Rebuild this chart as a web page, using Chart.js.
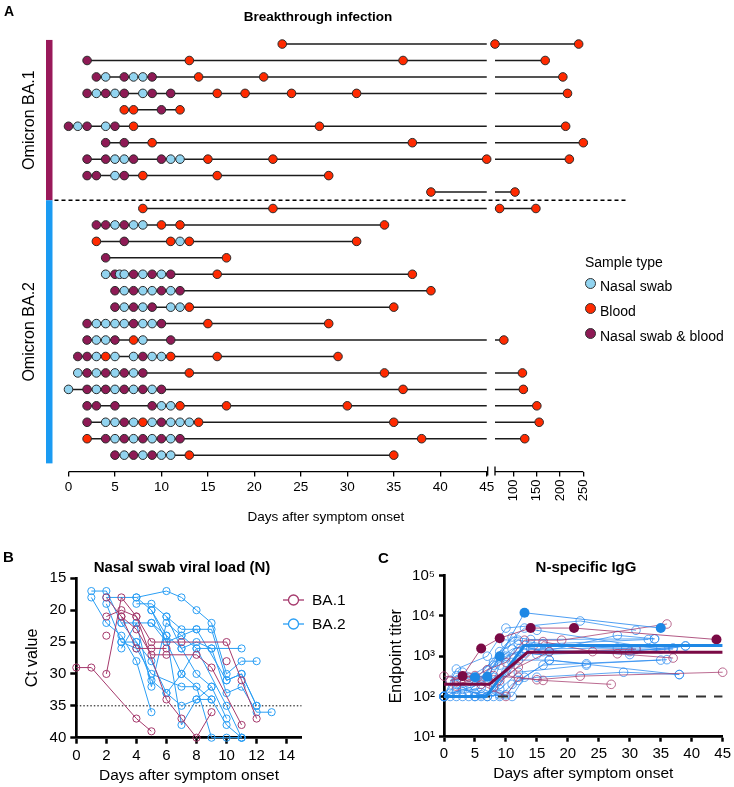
<!DOCTYPE html>
<html><head><meta charset="utf-8">
<script src="https://cdn.jsdelivr.net/npm/chart.js@4.4.0/dist/chart.umd.min.js"></script>
<style>
body{margin:0;background:#fff;width:734px;height:787px;position:relative;overflow:hidden;font-family:"Liberation Sans",Arial,sans-serif;color:#000}
canvas{position:absolute}
.t{position:absolute;white-space:nowrap;line-height:1}
.b{font-weight:bold}
.lgA{position:absolute;left:585px;font-size:14px;line-height:1;white-space:nowrap}
.dot{position:absolute;width:9px;height:9px;border-radius:50%;border:1px solid #333;left:0;top:0}
.lgB{position:absolute;left:282px;font-size:15.5px;line-height:1;white-space:nowrap}
.lgB svg{position:absolute;left:0;top:-9px}
.lgB span{position:absolute;left:30px;top:-8px}
</style></head><body>
<canvas id="cA" width="734" height="530" style="left:0;top:0;width:734px;height:530px"></canvas>
<canvas id="cB" width="340" height="247" style="left:0;top:540px;width:340px;height:247px"></canvas>
<canvas id="cC" width="394" height="247" style="left:340px;top:540px;width:394px;height:247px"></canvas>

<div class="t b" style="left:4px;top:4px;font-size:14px">A</div>
<div class="t b" style="left:318px;top:10px;font-size:13.5px;transform:translateX(-50%)">Breakthrough infection</div>
<div class="t b" style="left:3px;top:549px;font-size:15px">B</div>
<div class="t b" style="left:182px;top:559px;font-size:15px;transform:translateX(-50%)">Nasal swab viral load (N)</div>
<div class="t b" style="left:378px;top:550px;font-size:15px">C</div>
<div class="t b" style="left:586px;top:559px;font-size:15px;transform:translateX(-50%)">N-specific IgG</div>

<div id="legendA"></div>
<div id="legendB"></div>

<script>
// ================= DATA =================
// Panel A: one string per subject, tokens = sample type letter + day after symptom onset
// N = nasal swab, B = blood, X = nasal swab & blood
const SAMPLE_TYPES = ['Nasal swab', 'Blood', 'Nasal swab & blood'];
const SAMPLE_CODES = ['N', 'B', 'X'];
const GROUPS_A = ['Omicron BA.1', 'Omicron BA.2'];
const BA1_ROWS = [
  'B23 B60 B240',
  'X2 B13 B36 B168',
  'X3 N4 X6 N7 N8 X9 B14 B21 B206',
  'X2 N3 X4 N5 X6 N8 X9 X11 B16 B19 B24 B31 B216',
  'B6 B7 X10 B12',
  'X0 N1 X2 N4 X5 B7 B27 B212',
  'X4 X6 B9 B37 B250',
  'X2 X4 N5 N6 X7 X10 N11 N12 B15 B22 B45 B220',
  'X2 X3 N5 X6 B8 B16 B28',
  'B39 B103'
];
const BA2_ROWS = [
  'B8 B22 B70 B148',
  'X3 X4 N5 X6 N7 N8 B10 B12 B34',
  'B3 X6 B11 N12 B13 B31',
  'X4 B17',
  'N4 X5 N5.5 N6 X7 N8 X9 N10 X11 B16 B37',
  'X5 N6 X7 N8 N9 X10 N11 X12 B39',
  'X5 N6 X7 N8 X9 N11 N12 B13 B35',
  'X2 N3 N4 N5 N6 X7 N8 N9 X10 B15 B28',
  'X2 N3 N4 X5 B7 N8 X11 B79',
  'X1 X2 N3 B4 N5 N7 X8 N9 N10 B11 B16 B29',
  'N1 X2 N3 X4 N5 X6 N7 X8 B13 B34 B119',
  'N0 X2 N3 X4 N5 X6 N7 X8 N9 X10 B36 B121',
  'X2 X3 X5 X9 N10 N11 B12 B17 B30 B150',
  'X2 N4 N5 X6 N7 B8 N9 X10 N11 N12 N13 B14 B35 B155',
  'B2 X4 N5 X6 N7 X8 N9 X10 N11 X12 B38 B124',
  'X5 N6 X7 N8 X9 N10 N11 B13 B35'
];
const A_TICKS = [0, 5, 10, 15, 20, 25, 30, 35, 40, 45, 100, 150, 200, 250];
const A_BREAK_FROM = 45, A_BREAK_TO = 60, A_MAX = 250;

// Panel B: Ct values, [day, Ct]
const B_XTICKS = [0, 2, 4, 6, 8, 10, 12, 14];
const B_YTICKS = [15, 20, 25, 30, 35, 40];
const CT_LIMIT = 35;
const BA1_CT = [
  [[0,29],[1,29],[4,37],[5,39]],
  [[2,30],[3,18],[4,21],[5,25],[7,25],[10,25],[11,31],[12,37]],
  [[2,18],[3,21],[4,23],[5,27],[6,27],[8,27],[9,29],[11,38]],
  [[2,21],[3,20],[4,21],[6,34],[7,37],[8,40],[9,36]],
  [[3,21],[4,26],[5,26],[6,26]],
  [[2,24]],
  [[10,28]]
];
const BA2_CT = [
  [[1,17],[2,17],[3,22],[4,25],[5,31],[6,33],[7,35],[8,34],[9,34]],
  [[1,18],[2,22],[3,24],[4,28],[5,36]],
  [[2,18],[4,18],[5,20],[6,24],[7,26],[8,30],[9,32],[10,37]],
  [[2,19],[3,25],[4,26],[5,30],[7,32],[8,32],[9,40],[10,40],[11,40]],
  [[3,26],[4,22],[5,22],[6,25],[7,30],[9,34],[10,38],[11,40]],
  [[4,19],[5,19],[6,21],[7,23],[8,23],[9,23],[10,31],[11,30],[12,35]],
  [[4,18],[6,17],[7,18],[8,20],[9,22],[10,30],[11,28],[12,28]],
  [[3,22],[4,22],[5,32],[6,22],[7,24],[8,26],[9,26],[11,26]],
  [[5,22],[6,24],[7,38],[8,34],[9,32]],
  [[6,21],[7,26],[8,25],[9,26],[10,33],[11,32],[12,36],[13,36]],
  [[3,25],[4,25],[5,28],[6,33],[7,30],[8,26],[10,35],[11,40]],
  [[5,20],[6,25],[7,24],[8,23],[10,31],[11,30],[12,35]]
];

// Panel C: endpoint titers, [day, titer]
const C_XTICKS = [0, 5, 10, 15, 20, 25, 30, 35, 40, 45];
const C_YTICKS = [10, 100, 1000, 10000, 100000];
const IGG_LIMIT = 100;
const BA1_IGG = [
  [[0,320],[4,250],[8,330],[15,260],[22,320],[45,400]],
  [[2,230],[6,200],[10,100],[12,300],[16,250],[27,200]],
  [[2,180],[7,460],[10,700],[13,2500],[19,2500],[36,6300]],
  [[4,300],[8,170],[11,400],[16,2300],[24,1300],[28,1150],[37,900]],
  [[1,250],[5,330],[9,250],[12,540],[17,1300],[31,1500]]
];
const BA1_IGG_HIGHLIGHT = [[3,320],[6,1550],[9,2800],[14,5000],[21,5000],[44,2600]];
const BA1_IGG_FIT = [[0,200],[7.3,200],[13.5,1250],[45,1250]];
const BA2_IGG = [
  [[0,100],[2,480],[7,1000],[10,5000],[22,7500],[31,4400]],
  [[0,100],[2,330],[5,250],[10,2000],[13,5000],[15,4400],[35,1500]],
  [[0,100],[3,150],[7,100],[9,600],[12,2000],[16,1300],[28,3300],[34,2700]],
  [[0,100],[2,200],[5,120],[8,100],[11,700],[14,1500],[30,1100],[39,1800]],
  [[1,100],[4,100],[7,100],[9,200],[12,800],[17,800],[23,650],[35,800]],
  [[2,100],[5,100],[8,300],[10,400],[13,1200],[17,1300],[37,1500]],
  [[0,100],[5,100],[10,110],[12,250],[15,300],[29,400],[38,350]],
  [[2,130],[6,160],[9,100],[11,200],[16,600],[36,820]],
  [[1,250],[4,300],[8,700],[11,1500],[14,2000],[31,1500]],
  [[3,400],[6,250],[9,1300],[12,2500],[16,2000],[33,2600]],
  [[0,100],[3,100],[6,110],[9,150],[12,400],[23,600]],
  [[2,250],[4,130],[7,450],[10,900],[13,1500],[28,1600],[37,1600]],
  [[1,120],[5,180],[8,600],[11,3000],[14,2600],[34,2700]],
  [[0,100],[6,100],[9,110],[11,100],[13,300],[17,800],[38,350]],
  [[2,150],[7,250],[10,1000],[12,1300],[15,1100],[30,1300],[39,1800]]
];
const BA2_IGG_HIGHLIGHT = [[5,300],[7,310],[9,1000],[13,12000],[35,5000]];
const BA2_IGG_FIT = [[0,100],[6.8,100],[13,1850],[45,1850]];

// ================= STYLE =================
const FONT = '"Liberation Sans", Arial, sans-serif';
Chart.defaults.font.family = FONT;
Chart.defaults.color = '#000';
const COL_TYPE = {N:'#92D4F0', B:'#FF2A00', X:'#8E1A55'};
const COL_BAR_BA1 = '#99195A', COL_BAR_BA2 = '#1B9BF2';
const COL_B1 = '#A5396C', COL_B2 = '#2A9EF4';
const COL_C1 = 'rgba(165,60,110,0.85)', COL_C2 = 'rgba(45,140,240,0.85)';
const COL_C1_DARK = '#7A0A45', COL_C2_DARK = '#1E88E5';

// ================= broken-axis scale =================
const SEG_LEFT = 418.2/514.8, SEG_GAP = 8.3/514.8;
function brokenFraction(v){
  if (v <= A_BREAK_FROM) return v / A_BREAK_FROM * SEG_LEFT;
  if (v < A_BREAK_TO) return SEG_LEFT + (v - A_BREAK_FROM)/(A_BREAK_TO - A_BREAK_FROM)*SEG_GAP;
  return SEG_LEFT + SEG_GAP + (v - A_BREAK_TO)/(A_MAX - A_BREAK_TO)*(1 - SEG_LEFT - SEG_GAP);
}
function brokenValue(f){
  if (f <= SEG_LEFT) return f / SEG_LEFT * A_BREAK_FROM;
  if (f < SEG_LEFT + SEG_GAP) return A_BREAK_FROM + (f - SEG_LEFT)/SEG_GAP*(A_BREAK_TO - A_BREAK_FROM);
  return A_BREAK_TO + (f - SEG_LEFT - SEG_GAP)/(1 - SEG_LEFT - SEG_GAP)*(A_MAX - A_BREAK_TO);
}
class BrokenLinearScale extends Chart.LinearScale {
  getPixelForValue(v){ return this.getPixelForDecimal(brokenFraction(v)); }
  getValueForPixel(p){ return brokenValue(this.getDecimalForPixel(p)); }
}
BrokenLinearScale.id = 'brokenLinear';
BrokenLinearScale.defaults = Chart.LinearScale.defaults;
Chart.register(BrokenLinearScale);

// ================= PANEL A =================
const parseRow = s => s.split(' ').map(t => ({type:t[0], day:parseFloat(t.slice(1))}));
const rowsA = [...BA1_ROWS, ...BA2_ROWS].map(parseRow);
const lineSetsA = rowsA.map((pts, i) => {
  const r = i + 1, first = pts[0].day, last = pts[pts.length-1].day;
  const d = [{x:first, y:r}, {x:Math.min(last, A_BREAK_FROM + 0.1), y:r}];
  if (last > A_BREAK_FROM + 0.1) d.push({x:(A_BREAK_FROM + A_BREAK_TO)/2, y:null}, {x:A_BREAK_TO, y:r}, {x:last, y:r});
  return {type:'scatter', data:d, showLine:true, spanGaps:false, borderColor:'#1c1c1c', borderWidth:1.5, pointRadius:0, order:10};
});
const pointSetsA = SAMPLE_CODES.map((code, k) => ({
  type:'scatter', label:SAMPLE_TYPES[k],
  data: rowsA.flatMap((pts, i) => pts.filter(p => p.type === code).map(p => ({x:p.day, y:i+1}))),
  pointRadius:4.3, pointBorderWidth:1, pointBorderColor:'#2a2a2a', pointBackgroundColor:COL_TYPE[code],
  showLine:false, order:k === 0 ? 1 : 2, clip:false
}));

const panelAPlugin = {
  id:'panelA',
  afterDraw(chart){
    const {ctx, scales:{x, y}, chartArea} = chart;
    const yb = chartArea.bottom;
    ctx.save();
    ctx.strokeStyle = '#000'; ctx.lineWidth = 1.3;
    const xl0 = x.getPixelForValue(0), xl1 = x.getPixelForValue(A_BREAK_FROM) + 1;
    const xr0 = x.getPixelForValue(A_BREAK_TO), xr1 = x.getPixelForValue(A_MAX);
    ctx.beginPath();
    ctx.moveTo(xl0, yb); ctx.lineTo(xl1, yb);
    ctx.moveTo(xr0, yb); ctx.lineTo(xr1, yb);
    ctx.moveTo(xl1, yb - 5); ctx.lineTo(xl1, yb + 4);
    ctx.moveTo(xr0, yb - 5); ctx.lineTo(xr0, yb + 4);
    ctx.stroke();
    ctx.fillStyle = '#000'; ctx.font = '13px ' + FONT; ctx.textAlign = 'right'; ctx.textBaseline = 'middle';
    A_TICKS.filter(v => v > A_BREAK_FROM).forEach(v => {
      ctx.save(); ctx.translate(x.getPixelForValue(v), yb + 8); ctx.rotate(-Math.PI/2); ctx.fillText(String(v), 0, 0); ctx.restore();
    });
    // group separator
    const ys = y.getPixelForValue(BA1_ROWS.length + 0.5);
    const yTop = y.getPixelForValue(0.75), yBot = y.getPixelForValue(rowsA.length + 0.5);
    ctx.setLineDash([4, 3]); ctx.lineWidth = 1.3;
    ctx.beginPath(); ctx.moveTo(chartArea.left - 14, ys); ctx.lineTo(chartArea.right + 45, ys); ctx.stroke();
    ctx.setLineDash([]);
    // group bars
    const bx = chartArea.left - 22.5;
    ctx.fillStyle = COL_BAR_BA1; ctx.fillRect(bx, yTop, 6.5, ys - yTop);
    ctx.fillStyle = COL_BAR_BA2; ctx.fillRect(bx, ys, 6.5, yBot - ys);
    // group labels
    ctx.fillStyle = '#000'; ctx.font = '16px ' + FONT; ctx.textAlign = 'center'; ctx.textBaseline = 'middle';
    [[yTop, ys], [ys, yBot]].forEach(([a, b], g) => {
      ctx.save(); ctx.translate(bx - 16, (a + b)/2); ctx.rotate(-Math.PI/2); ctx.fillText(GROUPS_A[g], 0, 0); ctx.restore();
    });
    ctx.restore();
  }
};

new Chart(document.getElementById('cA'), {
  data:{datasets:[...pointSetsA, ...lineSetsA]},
  options:{
    responsive:false, animation:false, events:[],
    layout:{padding:{left:68.5, right:734 - 583.3, top:27.6, bottom:0}},
    plugins:{legend:{display:false}, tooltip:{enabled:false}},
    scales:{
      x:{type:'brokenLinear', min:0, max:A_MAX,
         afterBuildTicks: s => { s.ticks = A_TICKS.map(v => ({value:v})); },
         afterFit: s => { s.height = 58.4; },
         ticks:{autoSkip:false, maxRotation:0, minRotation:0, padding:3, color:'#000', font:{size:13.5},
                callback: v => v <= A_BREAK_FROM ? String(v) : ''},
         grid:{display:true, drawOnChartArea:false, drawTicks:true, tickLength:5, color:'#000', tickColor:'#000', lineWidth:1.3, tickWidth:1.3},
         border:{display:false},
         title:{display:true, text:'Days after symptom onset', color:'#000', font:{size:13.5}, padding:{top:0, bottom:5}}
      },
      y:{type:'linear', min:0, max:27, reverse:true, display:false}
    }
  },
  plugins:[panelAPlugin]
});

// legend A (HTML)
(function(){
  const el = document.getElementById('legendA');
  let h = '<div class="lgA" style="top:255px">Sample type</div>';
  SAMPLE_CODES.forEach((c, k) => {
    const top = 279 + k*25;
    h += '<div class="lgA" style="top:' + top + 'px"><span class="dot" style="background:' + COL_TYPE[c] + ';left:0;top:-1px"></span><span style="position:absolute;left:15px;top:0">' + SAMPLE_TYPES[k] + '</span></div>';
  });
  el.innerHTML = h;
})();

// ================= PANEL B =================
const toXY = s => s.map(([x, y]) => ({x, y}));
const seriesB = (arr, col, order) => arr.map(s => ({
  type:'scatter', data:toXY(s), showLine:true, borderColor:col, borderWidth:1,
  pointRadius:3.6, pointBorderWidth:1, pointBorderColor:col, pointBackgroundColor:'rgba(255,255,255,0)', order, clip:false
}));
new Chart(document.getElementById('cB'), {
  data:{datasets:[
    ...seriesB(BA1_CT, COL_B1, 0),
    ...seriesB(BA2_CT, COL_B2, 1),
    {type:'scatter', data:[{x:0, y:CT_LIMIT}, {x:15, y:CT_LIMIT}], showLine:true, borderColor:'#000', borderWidth:1, borderDash:[1.5, 2], pointRadius:0, order:2}
  ]},
  options:{
    responsive:false, animation:false, events:[],
    layout:{padding:{left:0, top:38.3, right:38.3, bottom:0}},
    plugins:{legend:{display:false}, tooltip:{enabled:false}},
    scales:{
      x:{type:'linear', min:0, max:15,
         afterBuildTicks: s => { s.ticks = B_XTICKS.map(v => ({value:v})); },
         afterFit: s => { s.height = 49.3; },
         ticks:{autoSkip:false, maxRotation:0, padding:3, color:'#000', font:{size:15}},
         grid:{drawOnChartArea:false, tickLength:6, tickWidth:2.5, tickColor:'#000'},
         border:{color:'#000', width:2.7},
         title:{display:true, text:'Days after symptom onset', color:'#000', font:{size:15.5}, padding:{top:0, bottom:2}}
      },
      y:{type:'linear', min:15, max:40, reverse:true,
         afterBuildTicks: s => { s.ticks = B_YTICKS.map(v => ({value:v})); },
         afterFit: s => { s.width = 76.3; },
         ticks:{padding:4, color:'#000', font:{size:15}},
         grid:{drawOnChartArea:false, tickLength:6, tickWidth:2.5, tickColor:'#000'},
         border:{color:'#000', width:2.7},
         title:{display:true, text:'Ct value', color:'#000', font:{size:16}, padding:{top:23, bottom:0}}
      }
    }
  }
});

// legend B (HTML)
(function(){
  const el = document.getElementById('legendB');
  const items = [['BA.1', COL_B1, 600], ['BA.2', COL_B2, 623.5]];
  el.innerHTML = items.map(([t, c, y]) =>
    '<div class="lgB" style="top:' + y + 'px"><svg width="24" height="18"><line x1="1" y1="9" x2="22" y2="9" stroke="' + c + '" stroke-width="1.3"/><circle cx="11.5" cy="9" r="5" fill="#fff" stroke="' + c + '" stroke-width="1.3"/></svg><span>' + t + '</span></div>'
  ).join('');
})();

// ================= PANEL C =================
const SUP = ['⁰','¹','²','³','⁴','⁵'];
const seriesC = (arr, col, order) => arr.map(s => ({
  type:'scatter', data:toXY(s), showLine:true, borderColor:col, borderWidth:0.9,
  pointRadius:4.3, pointBorderWidth:0.9, pointBorderColor:col, pointBackgroundColor:'rgba(255,255,255,0)', order, clip:false
}));
new Chart(document.getElementById('cC'), {
  data:{datasets:[
    {type:'scatter', data:toXY(BA1_IGG_FIT), showLine:true, borderColor:COL_C1_DARK, borderWidth:3, pointRadius:0, order:0},
    {type:'scatter', data:toXY(BA2_IGG_FIT), showLine:true, borderColor:COL_C2_DARK, borderWidth:3, pointRadius:0, order:0},
    {type:'scatter', data:toXY(BA1_IGG_HIGHLIGHT), showLine:true, borderColor:COL_C1, borderWidth:1,
     pointRadius:5, pointBorderWidth:0, pointBackgroundColor:COL_C1_DARK, order:1, clip:false},
    {type:'scatter', data:toXY(BA2_IGG_HIGHLIGHT), showLine:true, borderColor:COL_C2, borderWidth:1,
     pointRadius:5, pointBorderWidth:0, pointBackgroundColor:COL_C2_DARK, order:1, clip:false},
    {type:'scatter', data:[{x:0, y:IGG_LIMIT}, {x:45, y:IGG_LIMIT}], showLine:true, borderColor:'#333', borderWidth:2, borderDash:[10, 8], pointRadius:0, order:2},
    ...seriesC(BA1_IGG, COL_C1, 3),
    ...seriesC(BA2_IGG, COL_C2, 4)
  ]},
  options:{
    responsive:false, animation:false, events:[],
    layout:{padding:{left:0, top:35.7, right:9, bottom:0}},
    plugins:{legend:{display:false}, tooltip:{enabled:false}},
    scales:{
      x:{type:'linear', min:0, max:45,
         afterBuildTicks: s => { s.ticks = C_XTICKS.map(v => ({value:v})); },
         afterFit: s => { s.height = 50.3; },
         ticks:{autoSkip:false, maxRotation:0, padding:3, color:'#000', font:{size:15}},
         grid:{drawOnChartArea:false, tickLength:5, tickWidth:2.5, tickColor:'#000'},
         border:{color:'#000', width:2.7},
         title:{display:true, text:'Days after symptom onset', color:'#000', font:{size:15.5}, padding:{top:0, bottom:4}}
      },
      y:{type:'logarithmic', min:10, max:100000,
         afterBuildTicks: s => { s.ticks = C_YTICKS.map(v => ({value:v})); },
         afterFit: s => { s.width = 104; },
         ticks:{padding:4, color:'#000', font:{size:15}, callback: v => '10' + SUP[Math.round(Math.log10(v))]},
         grid:{drawOnChartArea:false, tickLength:5, tickWidth:2.5, tickColor:'#000'},
         border:{color:'#000', width:2.7},
         title:{display:true, text:'Endpoint titer', color:'#000', font:{size:16}, padding:{top:47, bottom:0}}
      }
    }
  }
});
</script>
</body></html>
